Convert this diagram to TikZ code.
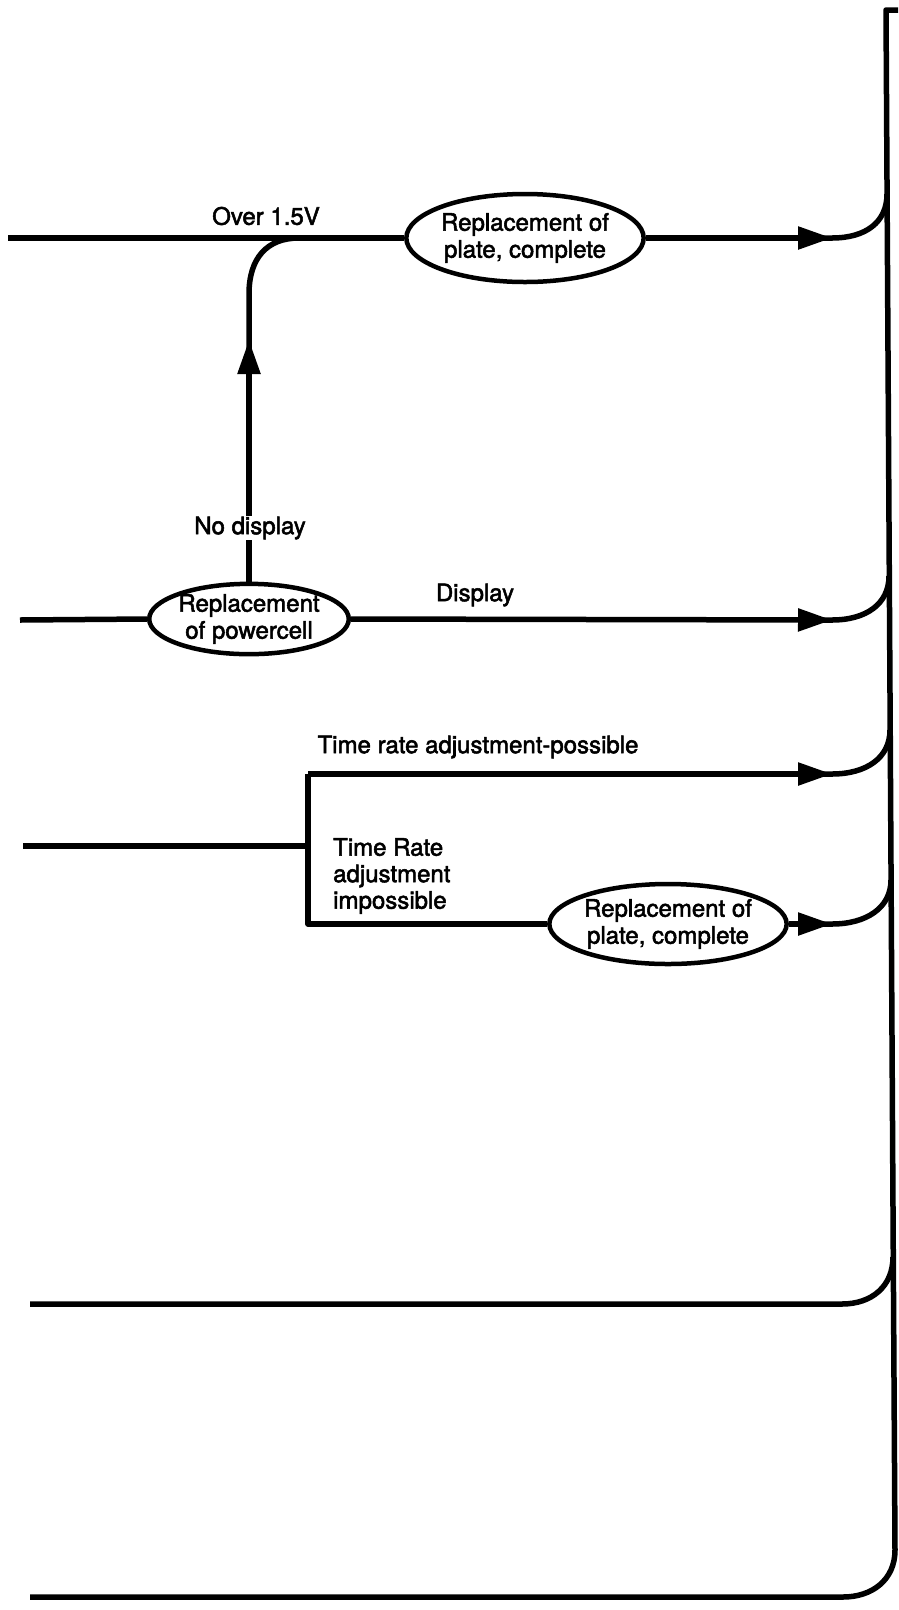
\documentclass[tikz,border=0pt]{standalone}
\usepackage{fontspec}
\setmainfont{TeX Gyre Heros}[RawFeature={embolden=2.2}]
\usetikzlibrary{arrows.meta,shapes.geometric}
\tikzset{
  wire/.style={line width=5.5pt, line cap=butt, line join=round},
  arr/.style={wire, -{Triangle[length=34pt,width=22pt]}},
  oval/.style={ellipse, draw, line width=4.5pt, inner sep=0pt, align=center, font=\fontsize{24}{27}\selectfont},
  lbl/.style={inner sep=1pt, font=\fontsize{24}{26.5}\selectfont},
}
\begin{document}
\begin{tikzpicture}[x=1pt,y=-1pt]
\useasboundingbox (0,0) rectangle (898,1610);
% ellipses
\node[oval, minimum width=228pt, minimum height=88pt] (e1) at (525,238) {Replacement of\\plate, complete};
\node[oval, minimum width=183pt, minimum height=66pt] (e2) at (249,619) {Replacement\\of powercell};
\node[oval, minimum width=230pt, minimum height=80pt] (e3) at (668,924) {Replacement of\\plate, complete};
% coordinates
\coordinate (s1) at (8,238);
\coordinate (t1) at (832,238);
\coordinate (s2) at (20,620);
\coordinate (t2) at (832,620);
\coordinate (s3) at (23,846);
\coordinate (b3) at (308,846);
\coordinate (bt) at (308,774);
\coordinate (bb) at (308,924);
\coordinate (t3) at (832,774);
\coordinate (t4) at (832,924);
\coordinate (s5) at (30,1304);
\coordinate (m5) at (842,1304);
\coordinate (s6) at (30,1597);
\coordinate (up) at (249,340);
\coordinate (bend) at (249,294);
\coordinate (join) at (299,238);
% trunk
\draw[wire] (898,10) -- (886,10) -- (895,1550) .. controls (895,1580) and (872,1597) .. (843,1597) -- (s6);
% row 1
\draw[wire] (s1) -- (e1.west);
\draw[arr] (e1.east) -- (t1);
\draw[wire] (818,238) -- (832,238) .. controls (866,238) and (887,222) .. (887,194);
% branch
\draw[arr] (e2.north) -- (up);
\draw[wire] (249,356) -- (bend) .. controls (249,258) and (267,238) .. (join);
% row 2
\draw[wire] (s2) -- (e2.west);
\draw[arr] (e2.east) -- (t2);
\draw[wire] (818,620) -- (832,620) .. controls (866,620) and (889,604) .. (889,576);
% row 3
\draw[wire] (s3) -- (b3);
\draw[wire] (bt) -- (bb) -- (e3.west);
\draw[arr] (bt) -- (t3);
\draw[wire] (818,774) -- (832,774) .. controls (866,774) and (890,758) .. (890,730);
\draw[arr] (e3.east) -- (t4);
\draw[wire] (818,924) -- (832,924) .. controls (866,924) and (891,908) .. (891,880);
% row 4
\draw[wire] (s5) -- (m5) .. controls (872,1304) and (893,1286) .. (893,1257);
% labels
\node[lbl] (l1) at (266,216) {Over 1.5V};
\node[lbl, fill=white] (l2) at (250,528) {No display};
\node[lbl] (l3) at (475,595) {Display};
\node[lbl] (l4) at (478,747) {Time rate adjustment-possible};
\node[lbl, align=left, anchor=west] (l5) at (332,876) {Time Rate\\adjustment\\impossible};
\end{tikzpicture}
\end{document}
